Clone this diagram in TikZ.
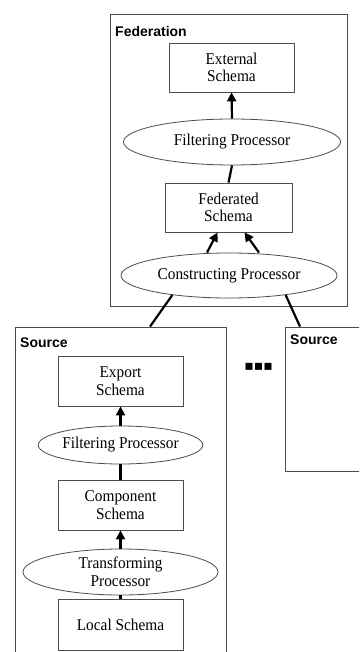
\documentclass[tikz,border=0pt]{standalone}
\usepackage{fontspec}
\setmainfont{Liberation Serif}[FakeStretch=0.93]
\newfontfamily\tagfont{Liberation Sans}
\newfontfamily\dotfont{DejaVu Sans}
\usetikzlibrary{shapes.geometric,arrows.meta}

\begin{document}
\begin{tikzpicture}[x=1bp, y=-1bp,
    font=\fontsize{16.5bp}{17.7bp}\selectfont,
    group/.style={draw=black!70, line width=0.8bp, inner sep=0pt},
    schema/.style={draw=black!70, line width=0.8bp, align=center, inner sep=0pt,
      minimum width=125bp, minimum height=50bp},
    proc/.style={ellipse, draw=black!70, line width=0.8bp, align=center, inner sep=0pt},
    tag/.style={anchor=west, inner sep=0pt, font=\tagfont\bfseries\fontsize{14bp}{16bp}\selectfont},
    link/.style={line width=2.2bp},
    flow/.style={line width=2.2bp, -{Triangle[length=9bp,width=9bp]}}]

    \clip (0,0) rectangle (359,652);
    \fill[white] (0,0) rectangle (359,652);

    \node[group, minimum width=237bp, minimum height=292bp] (fed) at (228.5,160) {};
    \node[tag] (fedtag) at (115,31) {Federation};
    \node[schema, minimum height=49bp] (ext) at (231.5,67.5) {External\\Schema};
    \node[proc, minimum width=217bp, minimum height=46bp] (ffilt) at (232,142) {Filtering Processor};
    \node[schema, minimum width=127bp, minimum height=49bp] (fedsch) at (228.5,207.5) {Federated\\Schema};
    \node[proc, minimum width=216bp, minimum height=45bp] (constr) at (229,275.5) {Constructing Processor};

    \node[group, minimum width=211bp, minimum height=340bp] (src) at (120.5,497) {};
    \node[tag] (srctag) at (20,343) {Source};
    \node[schema] (exp) at (120.5,381) {Export\\Schema};
    \node[proc, minimum width=157bp, minimum height=38bp] (sfilt) at (120.5,445) {Filtering Processor};
    \node[schema] (comp) at (120.5,505) {Component\\Schema};
    \node[proc, minimum width=195bp, minimum height=46bp] (trans) at (120.5,572) {Transforming\\Processor};
    \node[schema, minimum height=51bp] (loc) at (120.5,624.5) {Local Schema};

    \node[group, minimum width=90bp, minimum height=144bp] (osrc) at (330,399) {};
    \node[tag] (osrctag) at (290,340) {Source};
    \node[inner sep=0pt, font=\dotfont\fontsize{14bp}{14bp}\selectfont] (dots) at (258.5,367) {▪▪▪};

    \draw[flow] (ffilt.north) -- (ext.south);
    \draw[link] (fedsch.north) -- (ffilt.south);
    \draw[flow] ([xshift=-22bp]constr.north) -- ([xshift=-11bp]fedsch.south);
    \draw[flow] ([xshift=30bp]constr.north) -- ([xshift=16bp]fedsch.south);
    \draw[link] (constr.199) -- ([xshift=29.5bp]src.north);
    \draw[link] (constr.-19) -- ([xshift=-30bp]osrc.north);

    \draw[flow] (sfilt.north) -- (exp.south);
    \draw[link] (comp.north) -- (sfilt.south);
    \draw[flow] (trans.north) -- (comp.south);
    \draw[link] (loc.north) -- (trans.south);
\end{tikzpicture}
\end{document}
